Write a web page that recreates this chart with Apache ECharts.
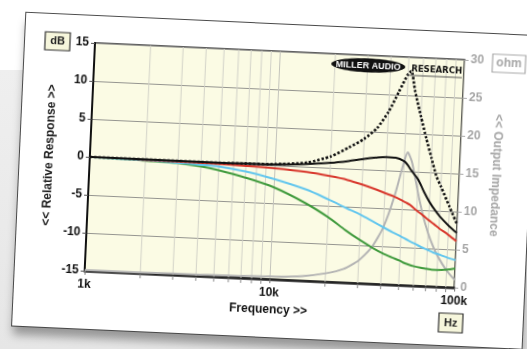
<!DOCTYPE html>
<html>
<head>
<meta charset="utf-8">
<script src="https://cdn.jsdelivr.net/npm/echarts@6/dist/echarts.min.js"></script>
<style>
  html, body { margin: 0; padding: 0; width: 527px; height: 349px; overflow: hidden; background: #ffffff; }
  #band { position: absolute; left: 0; top: 70px; width: 527px; height: 279px;
          background: linear-gradient(#efefef, #e6e6e6); }
  #card { position: absolute; left: 25px; top: 16px; width: 510px; height: 313px; background: #ffffff;
          transform-origin: 70px 27px; transform: rotate(2.6deg);
          box-shadow: 0 0 0 1px #4a4a4a, 1px 9px 10px rgba(0,0,0,0.35); }
  #chart { position: absolute; left: 0; top: 0; width: 510px; height: 313px; }
</style>
</head>
<body>
<div id="band"></div>
<div id="card"><div id="chart"></div></div>
<script>
// Frequency points (Hz) shared by every trace
const freqs = [1000, 1500, 2000, 3000, 4000, 5000, 7000, 10000, 15000, 20000, 25000, 30000, 35000,
               40000, 45000, 50000, 52000, 55000, 60000, 65000, 70000, 75000, 80000, 90000, 100000];

// Relative response (dB)
const openCircuit = [0, 0, 0, 0, 0, 0, 0.05, 0.15, 0.55, 1.5, 2.8, 4.0, 5.5,
                     7.7, 10.4, 12.8, 13.2, 10.6, 7.3, 4.4, 1.9, -0.4, -1.8, -4.4, -6.7];
const load8ohm    = [0, 0, 0, 0, 0, 0, 0.05, 0.1, 0.35, 0.65, 1.0, 1.35, 1.6,
                     1.75, 1.7, 1.3, 0.9, 0.1, -1.0, -2.6, -3.9, -4.9, -5.7, -6.9, -7.8];
const load4ohm    = [0, 0, -0.05, -0.1, -0.12, -0.15, -0.25, -0.4, -0.7, -1.1, -1.5, -2.0, -2.5,
                     -3.0, -3.4, -3.9, -4.1, -4.4, -5.1, -5.7, -6.3, -6.8, -7.3, -8.1, -8.9];
const load2ohm    = [0, -0.05, -0.1, -0.25, -0.38, -0.5, -1.0, -1.8, -3.0, -4.2, -5.2, -6.0, -6.8,
                     -7.5, -8.1, -8.6, -8.8, -9.1, -9.5, -9.9, -10.2, -10.5, -10.7, -11.1, -11.4];
const load1ohm    = [0, -0.05, -0.15, -0.3, -0.6, -1.0, -1.8, -2.9, -4.8, -6.5, -8.1, -9.3, -10.2,
                     -10.9, -11.4, -11.8, -12.0, -12.2, -12.45, -12.6, -12.7, -12.8, -12.8, -12.7, -12.5];

// Output impedance (ohm)
const outputImpedance = [0.1, 0.1, 0.1, 0.15, 0.15, 0.2, 0.25, 0.35, 0.6, 1.1, 1.8, 3.0, 4.8,
                         7.5, 11.5, 16.3, 17.5, 16.3, 12.5, 9.3, 7.0, 5.3, 4.0, 2.2, 1.0];

// Axis ticks
const minorFreqs = [2000, 3000, 4000, 5000, 6000, 7000, 8000, 9000,
                    20000, 30000, 40000, 50000, 60000, 70000, 80000, 90000];
const freqTickLabels = { 1000: '1k', 10000: '10k', 100000: '100k' };
const dbRange = [-15, 15];
const ohmRange = [0, 30];

const pairs = arr => freqs.map((f, i) => [f, arr[i]]);
const FONT = 'Liberation Sans, Arial, sans-serif';

const chart = echarts.init(document.getElementById('chart'), null, { renderer: 'canvas' });

function curve(name, arr, color, extra) {
  return Object.assign({
    name, type: 'line', data: pairs(arr), smooth: 0.3, showSymbol: false, silent: true,
    lineStyle: { color, width: 2 }, z: 3
  }, extra || {});
}

chart.setOption({
  animation: false,
  grid: { left: 70, top: 27, width: 370, height: 228, show: true,
          backgroundColor: '#fbfbe4', borderColor: '#2a2a2a', borderWidth: 1.5 },
  xAxis: {
    type: 'log', logBase: 10, min: 1000, max: 100000,
    name: 'Frequency >>', nameLocation: 'middle', nameGap: 24,
    nameTextStyle: { fontFamily: FONT, fontWeight: 'bold', fontSize: 12, color: '#111' },
    axisLine: { show: true, onZero: false, lineStyle: { color: '#222', width: 2.5 } },
    axisTick: { show: true, length: 4, lineStyle: { color: '#777' } },
    axisLabel: { fontFamily: FONT, fontWeight: 'bold', fontSize: 12, color: '#111', margin: 8,
                 formatter: v => freqTickLabels[Math.round(v)] || '' },
    splitLine: { show: true, lineStyle: { color: '#c4c4bc', width: 1 } }
  },
  yAxis: [{
    type: 'value', min: dbRange[0], max: dbRange[1], interval: 5, position: 'left',
    name: '<< Relative Response >>', nameLocation: 'middle', nameGap: 32, nameRotate: 90,
    nameTextStyle: { fontFamily: FONT, fontWeight: 'bold', fontSize: 12, color: '#222' },
    axisLine: { show: true, onZero: false, lineStyle: { color: '#111', width: 2 } },
    axisTick: { show: true, length: 4, lineStyle: { color: '#555' } },
    axisLabel: { fontFamily: FONT, fontWeight: 'bold', fontSize: 12, color: '#111', margin: 6 },
    splitLine: { show: true, lineStyle: { color: '#959590', width: 1 } }
  }, {
    type: 'value', min: ohmRange[0], max: ohmRange[1], interval: 5, position: 'right',
    name: '<< Output Impedance', nameLocation: 'middle', nameGap: 18, nameRotate: -90,
    nameTextStyle: { fontFamily: FONT, fontWeight: 'bold', fontSize: 12, color: '#a6a6a6' },
    axisLine: { show: false, onZero: false },
    axisTick: { show: true, length: 4, lineStyle: { color: '#aaa' } },
    axisLabel: { fontFamily: FONT, fontWeight: 'bold', fontSize: 12, color: '#a6a6a6', margin: 6 },
    splitLine: { show: false }
  }],
  graphic: [
    // unit boxes
    { type: 'rect', shape: { x: 20, y: 18, width: 25, height: 18 },
      style: { fill: '#f6f6dc', stroke: '#333', lineWidth: 1.2 }, z: 10 },
    { type: 'text', x: 32.5, y: 27, z: 11,
      style: { text: 'dB', fontFamily: FONT, fontWeight: 'bold', fontSize: 11, fill: '#222',
               align: 'center', verticalAlign: 'middle' } },
    { type: 'rect', shape: { x: 468, y: 20, width: 33, height: 18 },
      style: { fill: '#ffffff', stroke: '#aaa', lineWidth: 1.2 }, z: 10 },
    { type: 'text', x: 484.5, y: 29, z: 11,
      style: { text: 'ohm', fontFamily: FONT, fontWeight: 'bold', fontSize: 12, fill: '#a6a6a6',
               align: 'center', verticalAlign: 'middle' } },
    { type: 'rect', shape: { x: 426, y: 281, width: 24, height: 19 },
      style: { fill: '#f6f6dc', stroke: '#333', lineWidth: 1.2 }, z: 10 },
    { type: 'text', x: 438, y: 290.5, z: 11,
      style: { text: 'Hz', fontFamily: FONT, fontWeight: 'bold', fontSize: 11, fill: '#222',
               align: 'center', verticalAlign: 'middle' } },
    // maker's badge in the plot corner
    { type: 'ellipse', shape: { cx: 344, cy: 37, rx: 37, ry: 7 },
      style: { fill: '#111' }, z: 20 },
    { type: 'text', x: 344, y: 37.5, z: 21,
      style: { text: 'MILLER AUDIO', fontFamily: FONT, fontWeight: 'bold',
               fontSize: 9, fill: '#ffffff', align: 'center', verticalAlign: 'middle' } },
    { type: 'text', x: 438, y: 38.5, z: 21,
      style: { text: 'RESEARCH', fontFamily: 'DejaVu Sans, sans-serif', fontWeight: 'bold', fontSize: 8.5,
               fill: '#111', align: 'right', verticalAlign: 'middle' } },
    { type: 'rect', shape: { x: 383, y: 44.5, width: 55, height: 1 },
      style: { fill: '#555' }, z: 21 }
  ],
  series: [
    {
      // minor log gridlines and their ticks under the frequency axis
      type: 'custom', coordinateSystem: 'cartesian2d', xAxisIndex: 0, yAxisIndex: 0,
      data: minorFreqs.map(f => [f, dbRange[0]]), encode: { x: 0, y: 1 },
      silent: true, z: 1, clip: false,
      renderItem: (params, api) => {
        const top = api.coord([api.value(0), dbRange[1]]);
        const bot = api.coord([api.value(0), dbRange[0]]);
        return { type: 'group', children: [
          { type: 'line', shape: { x1: top[0], y1: top[1], x2: bot[0], y2: bot[1] },
            style: { stroke: '#d2d2c8', lineWidth: 1 } },
          { type: 'line', shape: { x1: bot[0], y1: bot[1] + 1, x2: bot[0], y2: bot[1] + 5 },
            style: { stroke: '#8a8a8a', lineWidth: 1 } }
        ] };
      }
    },
    curve('Output impedance', outputImpedance, '#b4b4b4', { yAxisIndex: 1, smooth: 0.2 }),
    curve('1 ohm', load1ohm, '#3f9a3c'),
    curve('2 ohm', load2ohm, '#62c6ee'),
    curve('4 ohm', load4ohm, '#d8372c'),
    curve('8 ohm', load8ohm, '#111111'),
    curve('Open circuit', openCircuit, '#111111',
          { smooth: 0.2, z: 4, lineStyle: { color: '#111', width: 2.6, type: [2.4, 1.9], cap: 'butt' } })
  ]
});
</script>
</body>
</html>
